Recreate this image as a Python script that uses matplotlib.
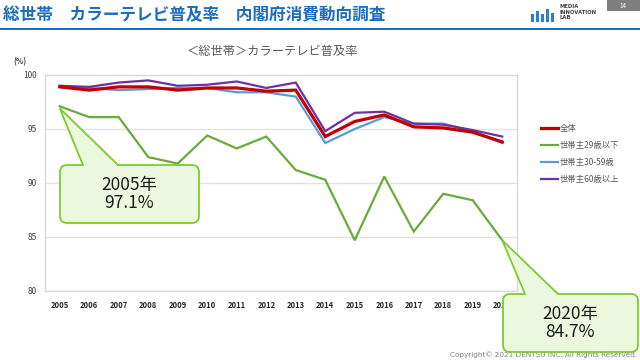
import matplotlib
matplotlib.use("Agg")
import matplotlib.pyplot as plt
from matplotlib.patches import FancyBboxPatch, Polygon, Rectangle

plt.rcParams['font.family'] = ['Noto Sans CJK JP', 'DejaVu Sans']

years = ["2005", "2006", "2007", "2008", "2009", "2010", "2011", "2012",
         "2013", "2014", "2015", "2016", "2017", "2018", "2019", "2020"]
total = [98.9, 98.6, 98.9, 98.9, 98.6, 98.8, 98.8, 98.5, 98.6, 94.3, 95.7, 96.3, 95.2, 95.1, 94.7, 93.8]
u29 = [97.1, 96.1, 96.1, 92.4, 91.8, 94.4, 93.2, 94.3, 91.2, 90.3, 84.7, 90.6, 85.5, 89.0, 88.4, 84.7]
a30_59 = [99.0, 98.8, 98.6, 98.7, 98.8, 98.8, 98.4, 98.4, 98.0, 93.7, 95.0, 96.1, 95.5, 95.5, 94.8, 93.7]
o60 = [99.0, 98.9, 99.3, 99.5, 99.0, 99.1, 99.4, 98.8, 99.3, 94.8, 96.5, 96.6, 95.5, 95.4, 94.9, 94.3]
series_names = ["全体", "世帯主29歳以下", "世帯主30-59歳", "世帯主60歳以上"]
yticks = [80, 85, 90, 95, 100]

W, H = 640, 360
fig = plt.figure(figsize=(6.4, 3.6), dpi=100)
fig.patch.set_facecolor("white")

ax = fig.add_axes([45 / W, 1 - 291 / H, 472 / W, 216 / H])
x = list(range(len(years)))
colors = ["#c00000", "#6aaa3a", "#5b9bd5", "#7030a0"]
widths = [2.3, 1.6, 1.6, 1.6]
order = [1, 2, 3, 0]
data = [total, u29, a30_59, o60]
handles = {}
for i in order:
    h, = ax.plot(x, data[i], color=colors[i], lw=widths[i], solid_joinstyle="miter", zorder=3 + (i == 0))
    handles[i] = h
ax.set_xlim(-0.5, len(years) - 0.5)
ax.set_ylim(80, 100)
ax.set_yticks(yticks)
ax.set_xticks(x)
ax.set_xticklabels(years)
ax.tick_params(length=0)
ax.tick_params(axis="y", pad=6, labelsize=6, labelcolor="#404040")
ax.tick_params(axis="x", pad=7, labelsize=5.5, labelcolor="#262626")
for lab in ax.get_xticklabels():
    lab.set_fontweight("bold")
ax.grid(axis="y", color="#e3e3e3", lw=1)
ax.set_axisbelow(True)
for s in ax.spines.values():
    s.set_color("#d9d9d9")
    s.set_linewidth(1)

leg = fig.legend([handles[i] for i in range(4)], series_names, loc="upper left",
                 bbox_to_anchor=(538 / W, 1 - 121 / H), frameon=False, fontsize=6,
                 handlelength=2.0, handletextpad=0.15, labelspacing=0.95, borderaxespad=0)
for t in leg.get_texts():
    t.set_color("#595959")

# overlay in pixel coordinates
ov = fig.add_axes([0, 0, 1, 1], zorder=10)
ov.set_xlim(0, W)
ov.set_ylim(H, 0)
ov.axis("off")
ov.patch.set_alpha(0)

ov.text(3, 15, "総世帯　カラーテレビ普及率　内閣府消費動向調査", fontsize=12,
        fontweight="bold", color="#1c6cc0", va="center", ha="left")
ov.add_patch(Rectangle((0, 27.5), W, 2.2, color="#1c6cc0", lw=0))
# logo
for bx, bh in [(531, 8), (536, 11), (541, 8), (546, 13), (551, 9)]:
    ov.add_patch(Rectangle((bx, 22 - bh), 2.6, bh, color="#2f7fd0", lw=0))
ov.add_patch(Rectangle((555.5, 2), 0.8, 20, color="#2f7fd0", lw=0))
ov.text(560, 12, "MEDIA\nINNOVATION\nLAB", fontsize=3.8, color="#404040", va="center",
        ha="left", linespacing=1.15, fontweight="bold", family="DejaVu Sans")
ov.add_patch(Rectangle((607, 0), 33, 11, color="#7f7f7f", lw=0))
ov.text(623, 5.5, "14", fontsize=4.5, color="white", ha="center", va="center")

ov.text(272, 52, "＜総世帯＞カラーテレビ普及率", fontsize=8.8, color="#595959",
        ha="center", va="center")
ov.text(20, 62, "(%)", fontsize=5.5, color="#404040", ha="center", va="center",
        fontweight="bold")
ov.text(637, 355, "Copyright© 2021 DENTSU INC. All Rights Reserved.", fontsize=5.2,
        color="#7f7f7f", ha="right", va="center", family="DejaVu Sans")

fig.canvas.draw()


def to_px(xi, yv):
    dx, dy = ax.transData.transform((xi, yv))
    return dx, H - dy


def callout(box, base, tip, text):
    x0, y0, x1, y1 = box
    fill = "#ebf8dd"
    edge = "#7dcb2c"
    ov.add_patch(FancyBboxPatch((x0, y0), x1 - x0, y1 - y0,
                                boxstyle="round,pad=0,rounding_size=7",
                                fc=fill, ec=edge, lw=1.3, zorder=5))
    ov.add_patch(Polygon([(base[0], y0), tip, (base[1], y0)], closed=False,
                         fc=fill, ec=edge, lw=1.3, zorder=6, joinstyle="miter"))
    ov.add_patch(Polygon([(base[0] + 0.8, y0 - 0.3), (base[1] - 0.8, y0 - 0.3),
                          (base[1] - 0.8, y0 + 1.2), (base[0] + 0.8, y0 + 1.2)],
                         fc=fill, ec="none", zorder=7))
    ov.text((x0 + x1) / 2, (y0 + y1) / 2, text, fontsize=12.5, color="#1a1a1a",
            ha="center", va="center", linespacing=1.0, zorder=8)


tip1 = to_px(0, u29[0])
callout((60, 165, 199, 223), (83, 118), (tip1[0], tip1[1] + 2), "2005年\n97.1%")
tip2 = to_px(15, u29[15])
callout((503, 294, 638, 352), (525, 558), tip2, "2020年\n84.7%")

fig.savefig("out.png", dpi=100)
